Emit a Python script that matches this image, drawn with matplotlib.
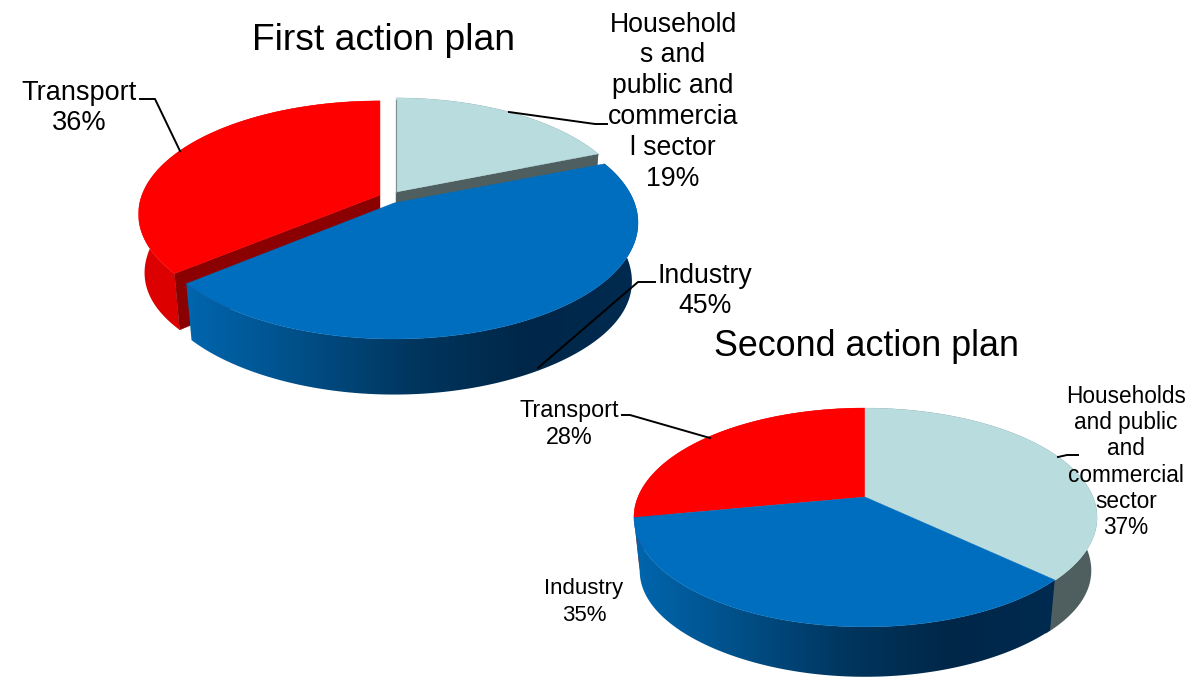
import numpy as np
import matplotlib
matplotlib.use("Agg")
import matplotlib.pyplot as plt
from matplotlib.colors import LinearSegmentedColormap
from matplotlib.patches import Polygon

plt.rcParams['font.family'] = ['Liberation Sans', 'DejaVu Sans']

# data
first_names = ["Households and public and commercial sector", "Industry", "Transport"]
first_values = [19, 45, 36]
second_names = ["Households and public and commercial sector", "Industry", "Transport"]
second_values = [37, 35, 28]

first_label_lines = ["Household\ns and\npublic and\ncommercia\nl sector\n19%", "Industry\n45%", "Transport\n36%"]
second_label_lines = ["Households\nand public\nand\ncommercial\nsector\n37%", "Industry\n35%", "Transport\n28%"]

# colours
top_colors = ["#B9DCDE", "#006EBE", "#FF0000"]
face_colors = ["#4F5F5F", "#003055", "#8B0000"]
blue_wall = LinearSegmentedColormap.from_list(
    "blue_wall", ["#0066AE", "#004F88", "#00365F", "#002748", "#002A50"])
red_wall = LinearSegmentedColormap.from_list("red_wall", ["#DE0000", "#D20000"])
grey_wall = LinearSegmentedColormap.from_list("grey_wall", ["#4F5F5F", "#4F5F5F"])
wall_maps = [grey_wall, blue_wall, red_wall]


def project(angle, r, tip, size, k):
    a = np.radians(angle)
    X = r * np.sin(a)
    Y = r * np.cos(a)
    x = tip[0] + size[0] * X / (1 + k * Y)
    y = tip[1] - size[1] * Y / (1 + k * Y)
    return x, y


def drop(x, y, tip, depth, angle):
    # the wall is a bit taller at the sides, the rim looks squarer there
    side = 7 * np.sin(np.radians(angle)) ** 4
    return tip[0] + 0.975 * (x - tip[0]), tip[1] + depth + side + 1.03 * (y - tip[1])


def draw_wall(ax, start, end, tip, size, k, depth, cmap, z):
    angles = np.linspace(start, end, 200)
    x, y = project(angles, 1.0, tip, size, k)
    bx, by = drop(x, y, tip, depth, angles)
    pts = np.column_stack([np.r_[x, bx[::-1]], np.r_[y, by[::-1]]])
    patch = Polygon(pts, closed=True, fc="none", ec="none", zorder=z)
    ax.add_patch(patch)
    grad = np.linspace(0, 1, 256).reshape(1, -1)
    im = ax.imshow(grad, cmap=cmap, aspect="auto", zorder=z,
                   extent=[pts[:, 0].min(), pts[:, 0].max(), pts[:, 1].max(), pts[:, 1].min()])
    im.set_clip_path(patch)


def draw_face(ax, angle, tip, size, k, depth, color, z):
    x, y = project(angle, 1.0, tip, size, k)
    bx, by = drop(x, y, tip, depth, angle)
    tx, ty = drop(tip[0], tip[1], tip, depth, 0)
    pts = [tip, (x, y), (bx, by), (tx, ty)]
    ax.add_patch(Polygon(pts, closed=True, fc=color, ec=color, lw=0.3, zorder=z))


def draw_top(ax, start, end, tip, size, k, color, z):
    angles = np.linspace(start, end, 200)
    x, y = project(angles, 1.0, tip, size, k)
    pts = np.vstack([[tip], np.column_stack([x, y])])
    ax.add_patch(Polygon(pts, closed=True, fc=color, ec=color, lw=0.3, zorder=z))


def draw_pie(ax, values, tips, sizes, k, depth, faces, overlap=0):
    edges = np.r_[0, np.cumsum(values)] * 3.6
    for i in [2, 0, 1]:
        z = {2: 2, 0: 3, 1: 4}[i]
        start, end = edges[i], edges[i + 1]
        # grey wall runs on under the blue one so no seam shows
        wall_end = end + overlap if i == 0 else end
        draw_wall(ax, start, wall_end, tips[i], sizes[i], k, depth, wall_maps[i], z)
        if faces[i] is not None:
            draw_face(ax, edges[faces[i]], tips[i], sizes[i], k, depth, face_colors[i], z + 0.1)
        draw_top(ax, start, end, tips[i], sizes[i], k, top_colors[i], z + 0.2)


fig = plt.figure(figsize=(11.87, 6.78), dpi=100)
ax = fig.add_axes([0, 0, 1, 1])

# first pie, slices pulled apart
draw_pie(ax, first_values,
         tips=[(396, 192), (394, 203), (380, 195)],
         sizes=[(231, 110), (240.5, 113), (238, 110)],
         k=0.169, depth=51.5, faces=[1, None, 2])
ax.plot([396, 396], [100, 192], color="#7F9090", lw=0.8, zorder=3.3)

# second pie
draw_pie(ax, second_values,
         tips=[(865, 497), (865, 497), (865, 497)],
         sizes=[(228, 105.6), (227, 105.6), (227, 105.6)],
         k=0.187, depth=46, faces=[None, None, None], overlap=2)

ax.set_xlim(0, 1187)
ax.set_ylim(678, 0)
ax.axis("off")

# titles
ax.text(383, 40, "First action plan", fontsize=26.8, ha="center", va="center", color="black", zorder=10)
ax.text(867, 346, "Second action plan", fontsize=25.8, ha="center", va="center", color="black", zorder=10)

# labels first
ax.text(673, 101.5, first_label_lines[0], fontsize=19.2, ha="center", va="center", linespacing=1.24, zorder=10, multialignment="center")
ax.text(705, 291, first_label_lines[1], fontsize=19.2, ha="center", va="center", linespacing=1.18, zorder=10, multialignment="center")
ax.text(79.5, 108, first_label_lines[2], fontsize=19.5, ha="center", va="center", linespacing=1.25, zorder=10, multialignment="center")

# labels second
ax.text(1126, 462, second_label_lines[0], fontsize=16.3, ha="center", va="center", linespacing=1.18, zorder=10, multialignment="center")
ax.text(584, 602, second_label_lines[1], fontsize=16, ha="center", va="center", linespacing=1.35, zorder=10, multialignment="center")
ax.text(569, 424, second_label_lines[2], fontsize=16.8, ha="center", va="center", linespacing=1.2, zorder=10, multialignment="center")

# leader lines
leaders = [
    ([140, 155, 180], [99, 99, 151]),
    ([509, 595, 607], [112, 124, 124]),
    ([655, 638, 538], [282, 282, 368]),
    ([622, 630, 710], [415, 415, 438]),
    ([1058, 1067, 1078], [457, 455, 455]),
]
for lx, ly in leaders:
    ax.plot(lx, ly, color="black", lw=1.4, zorder=9, solid_joinstyle="round")

fig.savefig("out.png", dpi=100)
